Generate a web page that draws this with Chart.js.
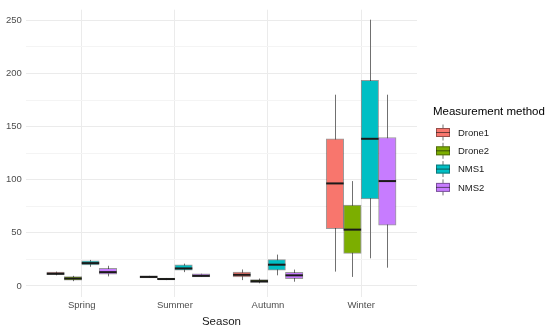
<!DOCTYPE html>
<html>
<head>
<meta charset="utf-8">
<script src="https://cdn.jsdelivr.net/npm/chart.js@4.4.1/dist/chart.umd.min.js"></script>
<style>
html,body{margin:0;padding:0;background:#fff;}
#wrap{width:550px;height:330px;position:relative;}
</style>
</head>
<body>
<div id="wrap"><canvas id="c" width="550" height="330"></canvas></div>
<script>
// ---- data ----
const seasons = ["Spring", "Summer", "Autumn", "Winter"];
const methods = ["Drone1", "Drone2", "NMS1", "NMS2"];
// each entry per season: [lowerWhisker, Q1, median, Q3, upperWhisker]
const drone1 = [[10, 10.5, 11.5, 13, 13.5], [7.5, 7.5, 8.5, 9.5, 9.5], [5.5, 8.5, 10.5, 13, 15.5], [13.5, 54, 96.5, 138.5, 180]];
const drone2 = [[4.5, 5.4, 7, 8.8, 9.5], [5.5, 6, 6.5, 7.5, 7.5], [2.5, 3, 4.5, 6, 7], [8.5, 30.7, 53, 76, 98.7]];
const nms1 = [[18, 19.8, 21.5, 23.6, 24.5], [13, 14.8, 16.5, 19.8, 21], [10, 14.8, 20, 24.8, 29.5], [26, 81.8, 138.5, 193.6, 250.6]];
const nms2 = [[9, 11, 13, 16.7, 19], [8.5, 8.5, 9.5, 11.5, 11.5], [4, 6.8, 10, 12.9, 15.4], [17.2, 57.3, 98.7, 139.7, 180]];
const yTicks = [0, 25, 50, 75, 100, 125, 150, 175, 200, 225, 250];

const statsByMethod = [drone1, drone2, nms1, nms2];
const fills = ["#F8766D", "#7CAE00", "#00BFC4", "#C77CFF"];
const dodge = [-0.28125, -0.09375, 0.09375, 0.28125];

const datasets = methods.map((m, k) => ({
  label: m,
  data: statsByMethod[k].map((s, i) => ({ x: i + 1 + dodge[k], y: [s[1], s[3]] })),
  backgroundColor: fills[k],
  borderColor: "rgba(30,30,30,0.45)",
  borderWidth: 1,
  borderSkipped: false,
  stats: statsByMethod[k]
}));

const boxPlugin = {
  id: "boxparts",
  beforeDatasetsDraw(chart) {
    const ctx = chart.ctx, xs = chart.scales.x, ys = chart.scales.y;
    ctx.save();
    ctx.strokeStyle = "#707070";
    ctx.lineWidth = 1;
    chart.data.datasets.forEach((ds) => {
      ds.data.forEach((pt, i) => {
        const s = ds.stats[i];
        const px = Math.round(xs.getPixelForValue(pt.x)) + 0.5;
        ctx.beginPath();
        ctx.moveTo(px, ys.getPixelForValue(s[0]));
        ctx.lineTo(px, ys.getPixelForValue(s[4]));
        ctx.stroke();
      });
    });
    ctx.restore();
  },
  afterDatasetsDraw(chart) {
    const ctx = chart.ctx, ys = chart.scales.y;
    ctx.save();
    ctx.strokeStyle = "#1a1a1a";
    ctx.lineWidth = 2;
    chart.data.datasets.forEach((ds, k) => {
      const meta = chart.getDatasetMeta(k);
      meta.data.forEach((bar, i) => {
        const s = ds.stats[i];
        const y = ys.getPixelForValue(s[2]);
        ctx.beginPath();
        ctx.moveTo(bar.x - bar.width / 2, y);
        ctx.lineTo(bar.x + bar.width / 2, y);
        ctx.stroke();
      });
    });
    ctx.restore();
  },
  afterDraw(chart) {
    const ctx = chart.ctx;
    const x0 = chart.chartArea.right + 16;
    ctx.save();
    ctx.fillStyle = "#000";
    ctx.textBaseline = "middle";
    ctx.textAlign = "left";
    ctx.font = "11.5px 'Liberation Sans', Arial, sans-serif";
    ctx.fillText("Measurement method", x0, 112);
    ctx.font = "9.5px 'Liberation Sans', Arial, sans-serif";
    methods.forEach((m, k) => {
      const cy = 132.5 + k * 18.3;
      const bx = x0 + 3, bw = 14, bh = 9;
      ctx.strokeStyle = "#707070";
      ctx.lineWidth = 1;
      ctx.beginPath();
      ctx.moveTo(bx + bw / 2, cy - 8);
      ctx.lineTo(bx + bw / 2, cy + 8);
      ctx.stroke();
      ctx.fillStyle = fills[k];
      ctx.fillRect(bx, cy - bh / 2, bw, bh);
      ctx.strokeStyle = "rgba(30,30,30,0.45)";
      ctx.strokeRect(bx + 0.5, cy - bh / 2 + 0.5, bw - 1, bh - 1);
      ctx.strokeStyle = "rgba(20,20,20,0.6)";
      ctx.beginPath();
      ctx.moveTo(bx, cy);
      ctx.lineTo(bx + bw, cy);
      ctx.stroke();
      ctx.fillStyle = "#1a1a1a";
      ctx.fillText(m, x0 + 25, cy + 0.5);
    });
    ctx.restore();
  }
};

Chart.defaults.font.family = "'Liberation Sans', Arial, sans-serif";

new Chart(document.getElementById("c"), {
  type: "bar",
  data: { datasets },
  options: {
    responsive: false,
    animation: false,
    grouped: false,
    barPercentage: 1,
    categoryPercentage: 1,
    layout: { padding: { left: 2, right: 133, top: 0, bottom: 2 } },
    plugins: { legend: { display: false }, tooltip: { enabled: false } },
    scales: {
      x: {
        type: "linear",
        offset: false,
        min: 0.4,
        max: 4.6,
        afterBuildTicks(axis) { axis.ticks = seasons.map((s, i) => ({ value: i + 1 })); },
        ticks: {
          callback: (v) => seasons[Math.round(v) - 1] || "",
          color: "#4D4D4D",
          font: { size: 9.5, lineHeight: 1 },
          padding: 4,
          autoSkip: false,
          maxRotation: 0
        },
        grid: { color: "#EBEBEB", lineWidth: 1, drawTicks: false, offset: false },
        border: { display: false },
        title: { display: true, text: "Season", color: "#1a1a1a", font: { size: 11.5, lineHeight: 1 }, padding: { top: 2, bottom: 0 } }
      },
      y: {
        type: "linear",
        min: -10.4,
        max: 260,
        afterBuildTicks(axis) { axis.ticks = yTicks.map((v) => ({ value: v })); },
        ticks: {
          callback: (v) => (v % 50 === 0 ? String(v) : ""),
          color: "#4D4D4D",
          font: { size: 9.5 },
          padding: 4
        },
        grid: {
          color: (c) => (c.tick && c.tick.value % 50 === 0 ? "#EBEBEB" : "#F4F4F4"),
          lineWidth: 1,
          drawTicks: false
        },
        border: { display: false }
      }
    }
  },
  plugins: [boxPlugin]
});
</script>
</body>
</html>
